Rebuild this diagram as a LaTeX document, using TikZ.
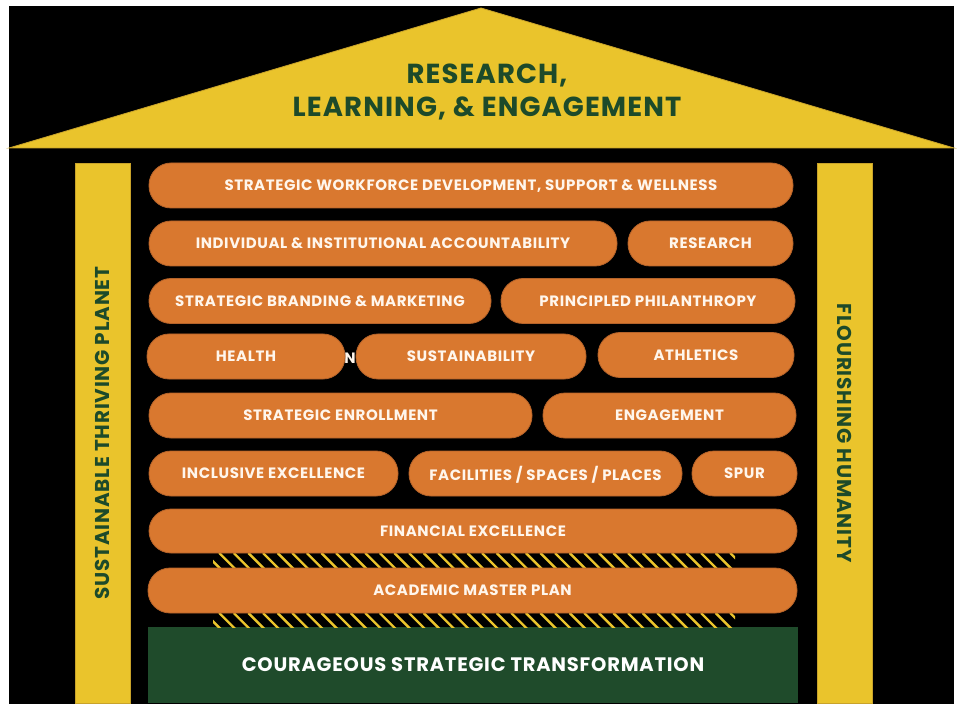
\documentclass[tikz,border=0pt]{standalone}
\usepackage{fontspec}
\setmainfont{Poppins}
\newfontfamily\pillfont{Poppins}[LetterSpace=4.0]
\usepackage{tikz}
\usetikzlibrary{positioning}
\definecolor{roofyellow}{HTML}{EAC42C}
\definecolor{roofedge}{HTML}{C9A32A}
\definecolor{pillorange}{HTML}{D9782F}
\definecolor{pilledge}{HTML}{B5632A}
\definecolor{pilltext}{HTML}{FFF6EC}
\definecolor{basegreen}{HTML}{1F4B2B}
\definecolor{rooftext}{HTML}{1D4A2A}

\begin{document}
\begin{tikzpicture}[x=1pt, y=-1pt, node distance=11pt, outer sep=0pt, inner sep=0pt]
	\tikzset{pill/.style={draw=pilledge, fill=pillorange, line width=0.8pt, rounded corners=22pt, minimum height=45pt, text depth=0pt, text=pilltext, font=\pillfont\bfseries\fontsize{15}{16}\selectfont}}
	\tikzset{pillar/.style={draw=roofedge, fill=roofyellow, line width=0.8pt, minimum width=540pt, minimum height=55pt, text depth=0pt, text=rooftext, font=\pillfont\bfseries\fontsize{20}{21}\selectfont}}
	\tikzset{hatch/.style={draw=roofyellow, line width=2.4pt}}
	% Colors: yellow, orange, green on black

	% Frame
	\useasboundingbox (0,0) rectangle (958,708);
	\fill[white] (0,0) rectangle (958,708);
	\fill[black] (9,6) rectangle (954,704);

	% Roof
	\coordinate (rl) at (9,148);
	\coordinate (rt) at (481,8);
	\coordinate (rr) at (954,148);
	\filldraw[fill=roofyellow, draw=roofedge, line width=0.8pt] (rl) -- (rt) -- (rr) -- cycle;
	\node[text=rooftext, align=center, font=\pillfont\bfseries\fontsize{27.5}{33}\selectfont] (roof) at (487,92) {RESEARCH,\\LEARNING, \& ENGAGEMENT};

	% Pillars
	\node[pillar, rotate=90] (lp) at (102.5,433) {SUSTAINABLE THRIVING PLANET};
	\node[pillar, rotate=-90] (rp) at (844.5,433) {FLOURISHING HUMANITY};

	% Foundation
	\node[fill=basegreen, minimum width=650pt, minimum height=76pt, text depth=0pt, text=white, font=\pillfont\bfseries\fontsize{19.5}{20}\selectfont] (base) at (473,665) {COURAGEOUS STRATEGIC TRANSFORMATION};

	% Hatched bands
	\foreach \top in {553,613} {
		\begin{scope}
			\clip (213,\top) rectangle (735,\top+14.5);
			\foreach \x in {190,204.6,...,750} \draw[hatch] (\x,\top) -- ++(16,16);
		\end{scope}
	}

	% Pills
	\node[pill, minimum width=644pt] (wf) at (471,185.5) {STRATEGIC WORKFORCE DEVELOPMENT, SUPPORT \& WELLNESS};

	\node[pill, minimum width=468pt] (acc) at (383,243.5) {INDIVIDUAL \& INSTITUTIONAL ACCOUNTABILITY};
	\node[pill, minimum width=165pt, right=11pt of acc] (res) {RESEARCH};

	\node[pill, minimum width=342pt] (brand) at (320,301) {STRATEGIC BRANDING \& MARKETING};
	\node[pill, minimum width=294pt, right=10pt of brand] (phil) {PRINCIPLED PHILANTHROPY};

	\node[text=pilltext, font=\pillfont\bfseries\fontsize{15}{16}\selectfont] (hidden) at (350,358) {N};
	\node[pill, minimum width=198pt] (health) at (246,356.5) {HEALTH};
	\node[pill, minimum width=230pt, right=11pt of health] (sus) {SUSTAINABILITY};
	\node[pill, minimum width=196pt, right=12pt of sus, yshift=1.5pt] (ath) {ATHLETICS};

	\node[pill, minimum width=383pt] (enr) at (340.5,415.5) {STRATEGIC ENROLLMENT};
	\node[pill, minimum width=253pt, right=11pt of enr] (eng) {ENGAGEMENT};

	\node[pill, minimum width=249pt] (incl) at (273.5,473.5) {INCLUSIVE EXCELLENCE};
	\node[pill, minimum width=273pt, right=11pt of incl] (fac) {FACILITIES / SPACES / PLACES};
	\node[pill, minimum width=105pt, right=10pt of fac] (spur) {SPUR};

	\node[pill, minimum width=648pt, minimum height=44pt] (fin) at (473,531) {FINANCIAL EXCELLENCE};
	\node[pill, minimum width=649pt] (amp) at (472.5,590.5) {ACADEMIC MASTER PLAN};
\end{tikzpicture}
\end{document}
